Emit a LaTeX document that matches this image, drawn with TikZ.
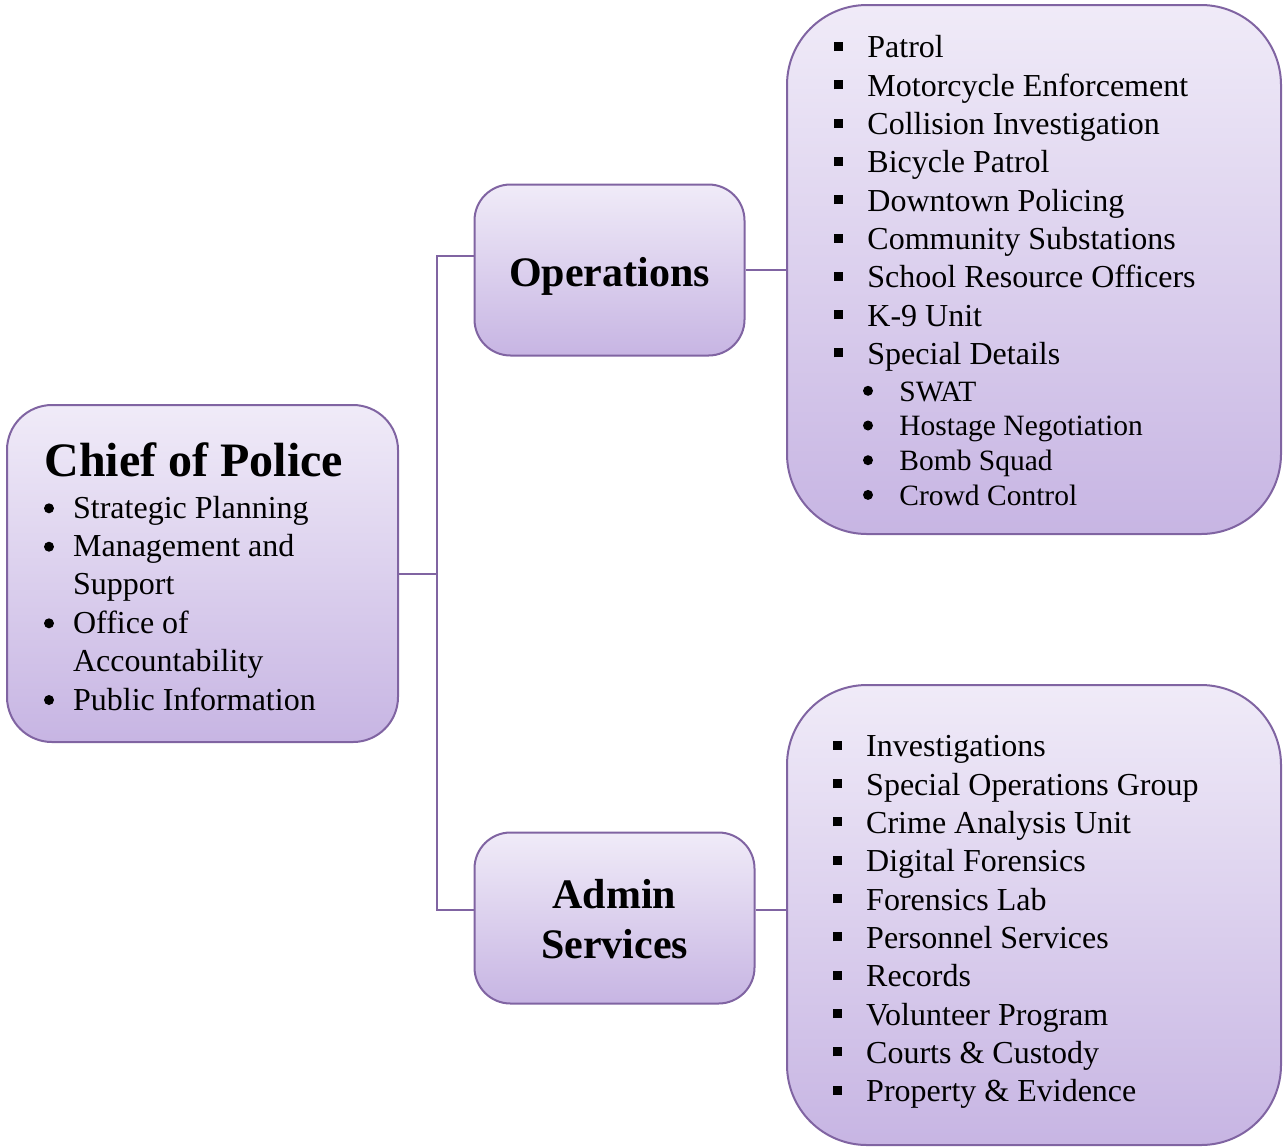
\documentclass[tikz,border=0pt]{standalone}
\usepackage{fontspec}
\setmainfont{Liberation Serif}
\definecolor{orgline}{RGB}{128,100,162}
\definecolor{orgtop}{RGB}{240,235,248}
\definecolor{orgbot}{RGB}{199,181,227}
\newcommand{\sqbul}{\makebox[16.75pt][l]{\rule[3.45pt]{4.5pt}{4.5pt}}}

\begin{document}
\begin{tikzpicture}[x=0.5pt,y=-0.5pt,
  orgbox/.style={draw=orgline,line width=1pt,top color=orgtop,bottom color=orgbot,inner sep=0pt},
  link/.style={draw=orgline,line width=1pt},
  dot/.style={circle,fill=black,inner sep=0pt,minimum size=5pt},
  item/.style={anchor=base west,inner sep=0pt,text height=11pt,text depth=3pt,font=\fontsize{16pt}{19pt}\selectfont},
  subitem/.style={anchor=base west,inner sep=0pt,text height=10pt,text depth=3pt,font=\fontsize{14.75pt}{17pt}\selectfont},
  head/.style={anchor=base,inner sep=0pt,font=\bfseries\fontsize{21pt}{25pt}\selectfont}]
\useasboundingbox (0,0) rectangle (1284,1147);
% boxes
\node[orgbox,rounded corners=22.5pt,minimum width=195.5pt,minimum height=168.5pt] (chief) at (202.5,573.5) {};
\node[orgbox,rounded corners=18pt,minimum width=135pt,minimum height=85.5pt] (ops) at (609.5,270) {};
\node[orgbox,rounded corners=18pt,minimum width=140pt,minimum height=85.5pt] (admin) at (614.5,918) {};
\node[orgbox,rounded corners=40pt,minimum width=247pt,minimum height=264.5pt] (opslist) at (1034,269.5) {};
\node[orgbox,rounded corners=40pt,minimum width=247pt,minimum height=230pt] (adminlist) at (1034,915) {};
% chief
\node[anchor=base west,inner sep=0pt,font=\bfseries\fontsize{24pt}{28pt}\selectfont] (chieftitle) at (44,476.7) {Chief of Police};
\node[dot] (c1d) at (49,508.3) {};
\node[item] (c1) at (72.7,518.3) {Strategic Planning};
\node[dot] (c2d) at (49,546.7) {};
\node[item] (c2) at (72.7,556.7) {Management and};
\node[item] (c2b) at (72.7,594.3) {Support};
\node[dot] (c3d) at (49,623.3) {};
\node[item] (c3) at (72.7,633.3) {Office of};
\node[item] (c3b) at (72.7,671.7) {Accountability};
\node[dot] (c4d) at (49,700) {};
\node[item] (c4) at (72.7,710) {Public Information};
% divisions
\node[head] (opstitle) at (609.5,286) {Operations};
\node[head] (admintitle1) at (614.5,908.3) {Admin};
\node[head] (admintitle2) at (614.5,958.3) {Services};
% operations list
\node[item] (o1) at (833.5,57.9) {\sqbul Patrol};
\node[item] (o2) at (833.5,96.2) {\sqbul Motorcycle Enforcement};
\node[item] (o3) at (833.5,134.5) {\sqbul Collision Investigation};
\node[item] (o4) at (833.5,172.8) {\sqbul Bicycle Patrol};
\node[item] (o5) at (833.5,211.1) {\sqbul Downtown Policing};
\node[item] (o6) at (833.5,249.4) {\sqbul Community Substations};
\node[item] (o7) at (833.5,287.7) {\sqbul School Resource Officers};
\node[item] (o8) at (833.5,326.0) {\sqbul K-9 Unit};
\node[item] (o9) at (833.5,364.3) {\sqbul Special Details};
\node[dot] (s1d) at (868,390.8) {};
\node[subitem] (s1) at (899,401.2) {SWAT};
\node[dot] (s2d) at (868,425.5) {};
\node[subitem] (s2) at (899,435.9) {Hostage Negotiation};
\node[dot] (s3d) at (868,460.2) {};
\node[subitem] (s3) at (899,470.6) {Bomb Squad};
\node[dot] (s4d) at (868,494.9) {};
\node[subitem] (s4) at (899,505.3) {Crowd Control};
% admin list
\node[item] (a1) at (832.3,756.7) {\sqbul Investigations};
\node[item] (a2) at (832.3,795.0) {\sqbul Special Operations Group};
\node[item] (a3) at (832.3,833.3) {\sqbul Crime Analysis Unit};
\node[item] (a4) at (832.3,871.7) {\sqbul Digital Forensics};
\node[item] (a5) at (832.3,910.0) {\sqbul Forensics Lab};
\node[item] (a6) at (832.3,948.3) {\sqbul Personnel Services};
\node[item] (a7) at (832.3,986.7) {\sqbul Records};
\node[item] (a8) at (832.3,1025.0) {\sqbul Volunteer Program};
\node[item] (a9) at (832.3,1063.3) {\sqbul Courts \& Custody};
\node[item] (a10) at (832.3,1101.7) {\sqbul Property \& Evidence};
% connectors
\coordinate (jtop) at (437,256);
\coordinate (jbot) at (437,910);
\draw[link] (chief.east) -- (chief.east -| jtop);
\draw[link] (ops.west |- jtop) -- (jtop) -- (jbot) -- (admin.west |- jbot);
\draw[link] (ops.east) -- (opslist.west |- ops.east);
\draw[link] (admin.east |- jbot) -- (adminlist.west |- jbot);
\end{tikzpicture}
\end{document}
